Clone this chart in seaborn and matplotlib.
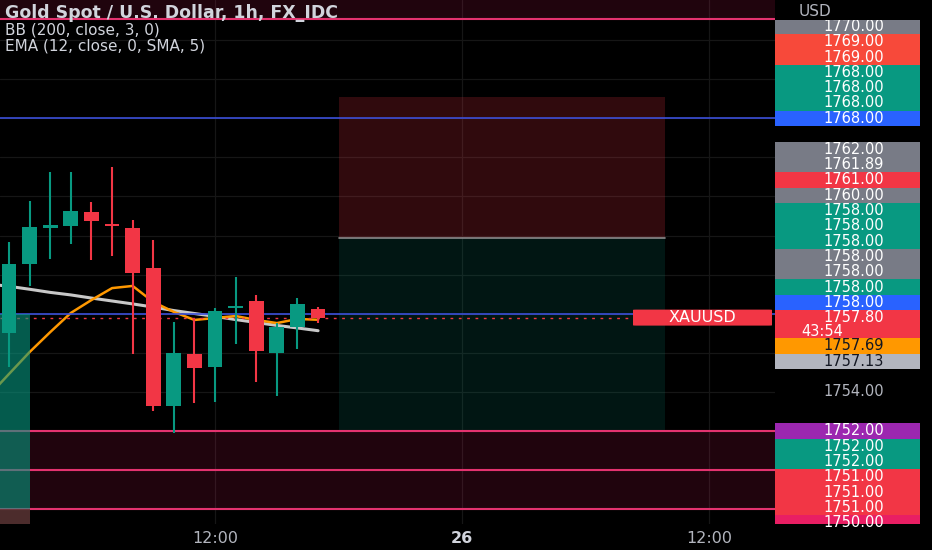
import numpy as np
import pandas as pd
import matplotlib
matplotlib.use('Agg')
import matplotlib.pyplot as plt
import seaborn as sns
from matplotlib.patches import Rectangle, FancyBboxPatch
from matplotlib.transforms import blended_transform_factory

# hourly candles, hour counted from 25th 00:00
hours = [2, 3, 4, 5, 6, 7, 8, 9, 10, 11, 12, 13, 14, 15, 16, 17]
opens = [1757.03, 1760.53, 1762.40, 1762.47, 1763.20, 1762.59, 1762.40, 1760.32,
         1753.28, 1755.94, 1755.29, 1758.28, 1758.65, 1755.97, 1757.34, 1758.22]
highs = [1761.68, 1763.78, 1765.23, 1765.23, 1763.73, 1765.52, 1762.79, 1761.77,
         1757.59, 1757.76, 1758.28, 1759.89, 1758.94, 1757.51, 1758.82, 1758.33]
lows = [1755.27, 1759.43, 1760.78, 1761.55, 1760.75, 1760.95, 1755.94, 1753.02,
        1751.91, 1753.42, 1753.50, 1756.43, 1754.52, 1753.79, 1756.19, 1757.51]
closes = [1760.54, 1762.42, 1762.55, 1763.25, 1762.74, 1762.51, 1760.10, 1753.28,
          1755.97, 1755.24, 1758.12, 1758.41, 1756.08, 1757.34, 1758.51, 1757.80]

line_hours = list(range(1, 18))
bb_basis = [1759.52, 1759.40, 1759.25, 1759.09, 1758.96, 1758.80, 1758.65, 1758.50, 1758.34,
            1758.16, 1758.01, 1757.86, 1757.70, 1757.55, 1757.40, 1757.27, 1757.13]
ema_vals = [1753.79, 1754.92, 1756.04, 1757.06, 1758.04, 1758.70, 1759.31, 1759.42, 1758.60,
            1758.09, 1757.68, 1757.78, 1757.88, 1757.68, 1757.52, 1757.73, 1757.69]

title = 'Gold Spot / U.S. Dollar, 1h, FX_IDC'
ind_bb = 'BB (200, close, 3, 0)'
ind_ema = 'EMA (12, close, 0, SMA, 5)'

time_ticks = [12, 24, 36]
time_labels = ['12:00', '26', '12:00']

pink_levels = [1752.0, 1750.0, 1748.0]
top_level = 1773.07
blue_levels = [1768.0, 1758.0]
last_price = 1757.80

# short position drawing
pos_start, pos_end = 18, 33.85
pos_stop, pos_entry, pos_target = 1769.08, 1761.89, 1752.0
# older position at left edge
old_start, old_end = 0, 3
old_entry, old_target = 1758.0, 1748.0

# price scale labels (stacked)
GREEN, RED, GREY, BLUE = '#089981', '#f23645', '#787b86', '#2962ff'
top_vals = ['1768.00', '1768.00', '1768.00', '1768.00', '1769.00', '1769.00', '1770.00']
top_cols = [BLUE, GREEN, GREEN, GREEN, '#f7493a', '#f7493a', GREY]
mid_vals = ['1758.00', '1758.00', '1758.00', '1758.00', '1758.00', '1758.00', '1758.00',
            '1760.00', '1761.00', '1761.89', '1762.00']
mid_cols = [BLUE, GREEN, GREY, GREY, GREEN, GREEN, GREEN, GREY, RED, GREY, GREY]
below_vals = ['1757.69', '1757.13']
below_cols = ['#ff9800', '#b2b5be']
low_vals = ['1752.00', '1752.00', '1752.00', '1751.00', '1751.00', '1751.00', '1750.00']
low_cols = ['#9c27b0', GREEN, GREEN, RED, RED, RED, '#e91e63']
countdown = '43:54'
tick_price = 1754.0

sns.set_style('dark', rc={'axes.facecolor': '#000000', 'figure.facecolor': '#000000',
                          'grid.color': '#161616', 'axes.edgecolor': '#000000'})
plt.rcParams['font.family'] = ['DejaVu Sans']

fig = plt.figure(figsize=(9.32, 5.5), dpi=100)
ax = fig.add_axes([0, 26 / 550, 775 / 932, 524 / 550])
axr = fig.add_axes([775 / 932, 26 / 550, 157 / 932, 524 / 550], sharey=ax)

ymin, ymax = 1747.24, 1774.05
ax.set_xlim(1.56, 39.18)
ax.set_ylim(ymin, ymax)
dpp = (ymax - ymin) / 524.0  # price per pixel

ax.set_yticks(np.arange(1748, 1774, 2))
ax.set_xticks(time_ticks)
ax.grid(True, color='#161616', linewidth=0.9)
ax.set_axisbelow(True)
ax.tick_params(axis='y', length=0, labelleft=False)
ax.tick_params(axis='x', length=0, pad=5)
ax.set_xticklabels(time_labels, color='#b2b5be', fontsize=11.5)
ax.get_xticklabels()[1].set_fontweight('bold')
ax.get_xticklabels()[1].set_color('#d1d4dc')
for s in ax.spines.values():
    s.set_visible(False)

# pink zones
ax.axhspan(pink_levels[1], pink_levels[0], color='#e91e63', alpha=0.14, lw=0, zorder=1)
ax.axhspan(pink_levels[2], pink_levels[1], color='#e91e63', alpha=0.14, lw=0, zorder=1)
ax.axhspan(top_level, ymax + 5, color='#e91e63', alpha=0.14, lw=0, zorder=1)
for lv in pink_levels + [top_level]:
    ax.axhline(lv, color='#e3336f', lw=1.5, zorder=2)

# short position
ax.add_patch(Rectangle((pos_start, pos_entry), pos_end - pos_start, pos_stop - pos_entry,
                       color='#f23645', alpha=0.2, lw=0, zorder=1))
ax.add_patch(Rectangle((pos_start, pos_target), pos_end - pos_start, pos_entry - pos_target,
                       color='#089981', alpha=0.15, lw=0, zorder=1))
ax.plot([pos_start, pos_end], [pos_entry, pos_entry], color='#8a8a8a', lw=1.2, zorder=1.5)

# indicator lines
sns.lineplot(x=line_hours, y=bb_basis, ax=ax, color='#c8c8c8', linewidth=2.2, zorder=2.2)
sns.lineplot(x=line_hours, y=ema_vals, ax=ax, color='#ff9800', linewidth=1.8, zorder=2.3)

for lv in blue_levels:
    ax.axhline(lv, color='#3b4fd8', lw=1.2, zorder=2.4)
ax.axhline(last_price, color=RED, lw=1.0, ls=(0, (2, 4)), zorder=2.4)

# candles
df = pd.DataFrame({'h': hours, 'o': opens, 'hi': highs, 'lo': lows, 'c': closes})
df['col'] = np.where(df['c'] >= df['o'], GREEN, RED)
ax.vlines(df['h'], df['lo'], df['hi'], colors=df['col'], lw=1.5, zorder=3)
ax.bar(df['h'], df['c'] - df['o'], bottom=df['o'], width=0.72, color=df['col'], lw=0, zorder=3.1)

# older position over everything at left
ax.add_patch(Rectangle((old_start, old_target), old_end - old_start, old_entry - old_target,
                       color='#089981', alpha=0.6, lw=0, zorder=4))
ax.add_patch(Rectangle((old_start, ymin - 1), old_end - old_start, old_target - ymin + 1,
                       color='#5a3535', alpha=0.85, lw=0, zorder=4))

# symbol tag
bm = blended_transform_factory(ax.transAxes, ax.transData)
tag_l, tag_r = 633 / 775, 772 / 775
ax.add_patch(FancyBboxPatch((tag_l, last_price - 8 * dpp), tag_r - tag_l, 16 * dpp,
                            boxstyle='round,pad=0,rounding_size=0.004', transform=bm,
                            fc=RED, ec='none', zorder=6, mutation_aspect=dpp * 80))
ax.text((tag_l + tag_r) / 2, last_price, 'XAUUSD', transform=bm, ha='center', va='center',
        color='white', fontsize=11.5, zorder=7)

# legend texts
ax.text(5 / 775, 1 - 13 / 524, title, transform=ax.transAxes, va='center', ha='left',
        color='#d1d4dc', fontsize=12.5, fontweight='bold', zorder=7)
ax.text(5 / 775, 1 - 30 / 524, ind_bb, transform=ax.transAxes, va='center', ha='left',
        color='#d1d4dc', fontsize=11, zorder=7)
ax.text(5 / 775, 1 - 46 / 524, ind_ema, transform=ax.transAxes, va='center', ha='left',
        color='#d1d4dc', fontsize=11, zorder=7)

# price scale
axr.set_facecolor('#000000')
axr.set_xlim(0, 1)
axr.tick_params(length=0, labelleft=False, labelbottom=False)
axr.grid(False)
for s in axr.spines.values():
    s.set_visible(False)
bt = blended_transform_factory(axr.transAxes, axr.transData)
step = 15.3 * dpp
box_w = 145 / 157
FS = 10.5


def price_box(yc, txt, fc, tc='white'):
    axr.add_patch(Rectangle((0, yc - step / 2), box_w, step, transform=bt,
                            fc=fc, ec='none', zorder=3))
    axr.text(0.5, yc, txt, transform=bt, ha='center', va='center', color=tc,
             fontsize=FS, zorder=4)


for k, (v, c) in enumerate(zip(top_vals, top_cols)):
    price_box(blue_levels[0] + k * step, v, c)
for k, (v, c) in enumerate(zip(mid_vals, mid_cols)):
    price_box(last_price + (k + 1) * step, v, c)
# last price box with countdown
axr.add_patch(Rectangle((0, last_price - 1.35 * step), box_w, 1.85 * step, transform=bt,
                        fc=RED, ec='none', zorder=3))
axr.text(0.5, last_price + 0.02 * step, '%.2f' % last_price, transform=bt, ha='center',
         va='center', color='white', fontsize=FS, zorder=4)
axr.text(0.17, last_price - 0.9 * step, countdown, transform=bt, ha='left', va='center',
         color='white', fontsize=FS, zorder=4)
for k, (v, c) in enumerate(zip(below_vals, below_cols)):
    price_box(last_price - (1.85 + k) * step, v, c, tc='#131722')
axr.text(0.5, tick_price, '%.2f' % tick_price, transform=bt, ha='center', va='center',
         color='#b2b5be', fontsize=FS, zorder=4)
for k, (v, c) in enumerate(zip(low_vals, low_cols)):
    price_box(pink_levels[0] - k * step, v, c)

# USD header
axr.add_patch(Rectangle((0, ymax - 20 * dpp), 1, 25 * dpp, transform=bt, fc='#000000',
                        ec='none', zorder=5))
axr.text(0.15, ymax - 11 * dpp, 'USD', transform=bt, ha='left', va='center',
         color='#b2b5be', fontsize=11, zorder=6)
axr.set_ylim(ymin, ymax)

fig.savefig('out.png', dpi=100, facecolor='#000000')
